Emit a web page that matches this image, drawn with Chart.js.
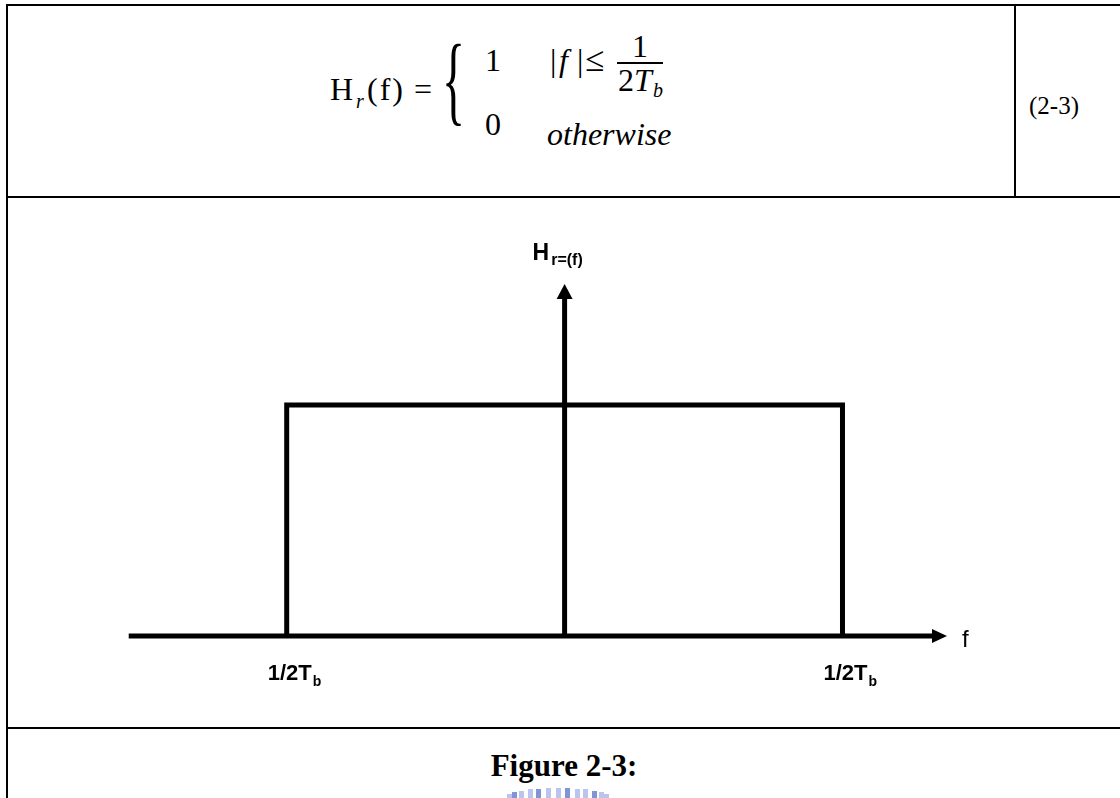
<!DOCTYPE html>
<html>
<head>
<meta charset="utf-8">
<script src="https://cdn.jsdelivr.net/npm/chart.js@4/dist/chart.umd.min.js"></script>
<style>
  html, body { margin: 0; padding: 0; background: #fff; width: 1120px; height: 798px; overflow: hidden; }
  #page { position: relative; width: 1120px; height: 798px; }
  .rule { position: absolute; background: #000; }
  .t { position: absolute; font-family: "Liberation Serif", "Times New Roman", serif; line-height: 1; color: #000; white-space: nowrap; }
  .i { font-style: italic; }
  #chart { position: absolute; left: 0; top: 0; }
  .wm { position: absolute; width: 5px; }
</style>
</head>
<body>
<div id="page">
  <!-- table frame -->
  <div class="rule" style="left:6px;top:4px;width:1114px;height:2px"></div>
  <div class="rule" style="left:6px;top:4px;width:2px;height:794px"></div>
  <div class="rule" style="left:1014px;top:4px;width:2px;height:193px"></div>
  <div class="rule" style="left:6px;top:196px;width:1114px;height:2px"></div>
  <div class="rule" style="left:6px;top:727px;width:1114px;height:2px"></div>

  <!-- equation (2-3) -->
  <div class="t" style="left:330px;top:73px;font-size:32px">H</div>
  <div class="t i" style="left:356px;top:91px;font-size:20px">r</div>
  <div class="t" style="left:367px;top:73px;font-size:32px;letter-spacing:2px">(f)</div>
  <div class="t" style="left:414px;top:73px;font-size:32px">=</div>
  <div class="t" style="left:442px;top:30px;font-size:100px;transform:scaleX(0.48);transform-origin:left top">{</div>
  <div class="t" style="left:485px;top:44px;font-size:32px">1</div>
  <div class="t" style="left:485px;top:108px;font-size:32px">0</div>
  <div class="t" style="left:550px;top:44px;font-size:32px">|</div>
  <div class="t i" style="left:559px;top:44px;font-size:32px">f</div>
  <div class="t" style="left:577px;top:44px;font-size:32px">|</div>
  <div class="t" style="left:585px;top:42px;font-size:35px">≤</div>
  <div class="t" style="left:632px;top:30px;font-size:32px">1</div>
  <div class="rule" style="left:617px;top:62px;width:46px;height:1.5px"></div>
  <div class="t" style="left:618px;top:64px;font-size:32px">2<span class="i">T</span></div>
  <div class="t i" style="left:653px;top:80px;font-size:20px">b</div>
  <div class="t i" style="left:547px;top:118px;font-size:32px">otherwise</div>
  <div class="t" style="left:1029px;top:93px;font-size:25px">(2-3)</div>

  <!-- caption -->
  <div class="t" style="left:8px;width:1112px;text-align:center;top:750px;font-size:31px;font-weight:bold">Figure 2-3:</div>
  <div id="wm"></div>

  <canvas id="chart" width="1120" height="798"></canvas>
</div>

<script>
// Ideal low-pass response: H_r(f) = 1 for |f| <= 1/2T_b, else 0 (f in units of 1/2T_b)
const edgeF = [-1, -1, 1, 1];
const gain  = [0, 1, 1, 0];

// Extent of the drawn f and H axes, in the same units
const fAxisRange = [-1.5685, 1.3761];
const hAxisRange = [0, 1.524];

// Band-edge tick labels
const edgeTicks = [-1, 1];
const edgeLabels = ['1/2T', '1/2T'];
const edgeLabelSub = 'b';

// Faint seal under the caption
(function () {
  const wm = document.getElementById('wm');
  const n = 13;
  for (let k = 0; k < n; k++) {
    const a = Math.PI * (0.18 + 0.64 * k / (n - 1));
    const cx = 558 - Math.cos(a) * 58;
    const cy = 800 - Math.sin(a) * 12;
    const d = document.createElement('div');
    d.className = 'wm';
    d.style.left = (cx - 2.5) + 'px';
    d.style.top = cy + 'px';
    d.style.height = '14px';
    d.style.background = (k % 3 === 1) ? '#7f95d8' : '#b9c5ee';
    wm.appendChild(d);
  }
})();

const pulse = edgeF.map((f, i) => ({ x: f, y: gain[i] }));

function arrowHead(ctx, x, y, dir, len, half) {
  ctx.beginPath();
  if (dir === 'right') {
    ctx.moveTo(x, y); ctx.lineTo(x - len, y - half); ctx.lineTo(x - len, y + half);
  } else {
    ctx.moveTo(x, y); ctx.lineTo(x - half, y + len); ctx.lineTo(x + half, y + len);
  }
  ctx.closePath();
  ctx.fill();
}

const axesPlugin = {
  id: 'arrowAxes',
  beforeDatasetsDraw(chart) {
    const { ctx, scales: { x, y } } = chart;
    const y0 = y.getPixelForValue(0);
    const x0 = x.getPixelForValue(0);
    const xa = x.getPixelForValue(fAxisRange[0]);
    const xb = x.getPixelForValue(fAxisRange[1]);
    const yTop = y.getPixelForValue(hAxisRange[1]);
    ctx.save();
    ctx.fillStyle = '#000';
    ctx.strokeStyle = '#000';
    ctx.lineWidth = 5;
    // f axis
    ctx.beginPath();
    ctx.moveTo(xa, y0);
    ctx.lineTo(xb - 13, y0);
    ctx.stroke();
    arrowHead(ctx, xb, y0, 'right', 15, 7);
    // H axis
    ctx.beginPath();
    ctx.moveTo(x0, y0);
    ctx.lineTo(x0, yTop + 12);
    ctx.stroke();
    arrowHead(ctx, x0, yTop, 'up', 15, 8);
    ctx.restore();
  },
  afterDatasetsDraw(chart) {
    const { ctx, scales: { x, y } } = chart;
    const y0 = y.getPixelForValue(0);
    const x0 = x.getPixelForValue(0);
    const xb = x.getPixelForValue(fAxisRange[1]);
    const yTop = y.getPixelForValue(hAxisRange[1]);
    const sans = '"Liberation Sans", Arial, sans-serif';
    ctx.save();
    ctx.fillStyle = '#000';
    ctx.textBaseline = 'alphabetic';
    ctx.textAlign = 'left';
    // H axis name
    ctx.font = 'bold 23px ' + sans;
    ctx.fillText('H', x0 - 32, yTop - 24);
    const hw = ctx.measureText('H').width;
    ctx.font = 'bold 16px ' + sans;
    ctx.fillText('r=(f)', x0 - 32 + hw + 2, yTop - 19);
    // f axis name
    ctx.font = '24px ' + sans;
    ctx.fillText('f', xb + 15, y0 + 11);
    // band-edge labels
    edgeTicks.forEach((v, i) => {
      const px = x.getPixelForValue(v) - 19;
      ctx.font = 'bold 22px ' + sans;
      const w = ctx.measureText(edgeLabels[i]).width;
      ctx.fillText(edgeLabels[i], px, y0 + 44);
      ctx.font = 'bold 14px ' + sans;
      ctx.fillText(edgeLabelSub, px + w + 1, y0 + 50);
    });
    ctx.restore();
  }
};

new Chart(document.getElementById('chart'), {
  type: 'scatter',
  data: {
    datasets: [{
      data: pulse,
      showLine: true,
      borderColor: '#000',
      borderWidth: 5,
      borderJoinStyle: 'miter',
      pointRadius: 0,
      fill: false,
      tension: 0
    }]
  },
  options: {
    responsive: false,
    animation: false,
    events: [],
    layout: { padding: 0 },
    plugins: { legend: { display: false }, tooltip: { enabled: false } },
    scales: {
      x: { type: 'linear', min: -2.0317, max: 1.9986, display: false },
      y: { type: 'linear', min: -0.7013, max: 2.7532, display: false }
    }
  },
  plugins: [axesPlugin]
});
</script>
</body>
</html>
